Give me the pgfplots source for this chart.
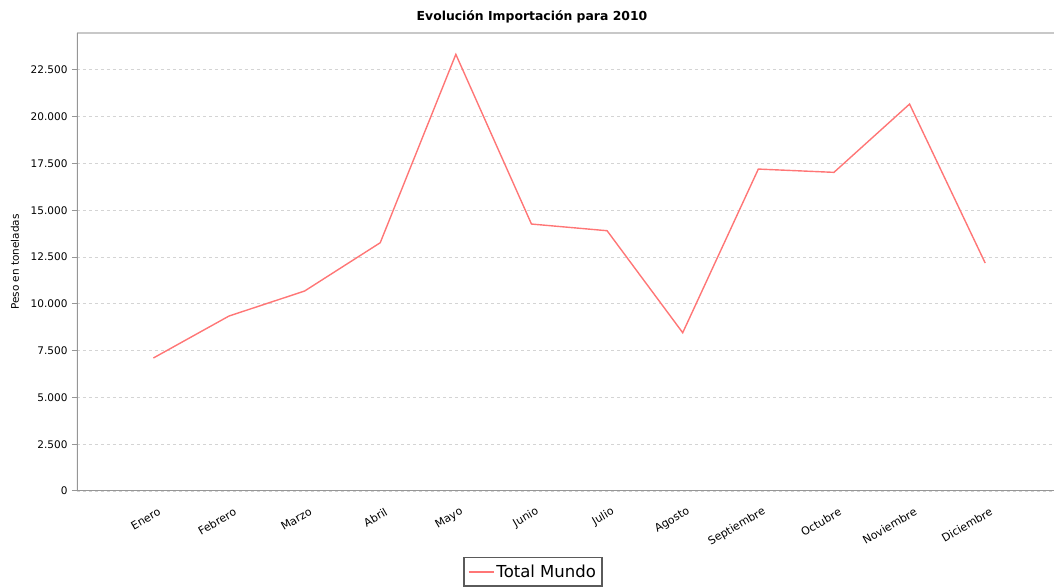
\documentclass[border=0pt]{standalone}
\usepackage{fontspec}
\setmainfont{DejaVu Sans}
\usepackage{pgfplots}
\pgfplotsset{compat=1.18}
\definecolor{linered}{RGB}{255,118,118}
\definecolor{gridgray}{RGB}{212,212,212}
\definecolor{axisgray}{RGB}{150,150,150}
\definecolor{topgray}{RGB}{200,200,200}
\definecolor{legendgray}{RGB}{90,90,90}
\begin{document}
\begin{tikzpicture}
\begin{axis}[
  at={(0pt,0pt)}, anchor=south west,
  scale only axis, width=977pt, height=458pt,
  xmin=-1.01, xmax=11.91, ymin=0, ymax=24470,
  /pgf/number format/assume math mode=true,
  axis line style={draw=none},
  xtick={0,...,11},
  xticklabels={Enero,Febrero,Marzo,Abril,Mayo,Junio,Julio,Agosto,Septiembre,Octubre,Noviembre,Diciembre},
  x tick style={draw=none},
  xticklabel style={rotate=30, anchor=east, font=\fontsize{11}{12}\selectfont, inner sep=1pt, xshift=-1pt, yshift=-16pt},
  ytick={0,2500,...,22500},
  scaled y ticks=false,
  yticklabel style={/pgf/number format/.cd, fixed, 1000 sep={.}, /tikz/.cd, font=\fontsize{10.5}{12}\selectfont, xshift=-1pt},
  tick align=outside, major tick length=5pt,
  y tick style={axisgray, line width=1pt},
  ymajorgrids,
  major grid style={gridgray, dash pattern=on 3pt off 3pt, line width=0.8pt},
  ylabel={Peso en toneladas},
  ylabel style={at={(axis description cs:-0.0635,0.5)}, anchor=center, font=\fontsize{10.5}{12}\selectfont},
  title={Evolución Importación para 2010},
  title style={at={(axis description cs:0.4657,1.0218)}, anchor=center, font=\bfseries\fontsize{12.4}{14}\selectfont},
  legend style={at={(axis description cs:0.4667,-0.1441)}, anchor=north, draw=legendgray, line width=1.5pt, font=\fontsize{16.5}{19}\selectfont, inner xsep=4pt, inner ysep=5pt},
  legend image code/.code={\draw[linered, line width=1.5pt] (-2pt,0pt) -- (23pt,0pt);},
]
\draw[topgray, line width=1.5pt] (rel axis cs:0,1) -- (rel axis cs:1,1);
\draw[axisgray, line width=1.5pt] (rel axis cs:0,1) -- (rel axis cs:0,0) -- (rel axis cs:1,0);
\addplot[linered, line width=1.4pt] coordinates {
(0,7105) (1,9348) (2,10684) (3,13264) (4,23328) (5,14263)
(6,13906) (7,8456) (8,17200) (9,17024) (10,20673) (11,12180)
};
\addlegendentry{Total Mundo}
\end{axis}
\pgfresetboundingbox
\path (-77pt,-97pt) rectangle (977pt,491pt);
\end{tikzpicture}
\end{document}
